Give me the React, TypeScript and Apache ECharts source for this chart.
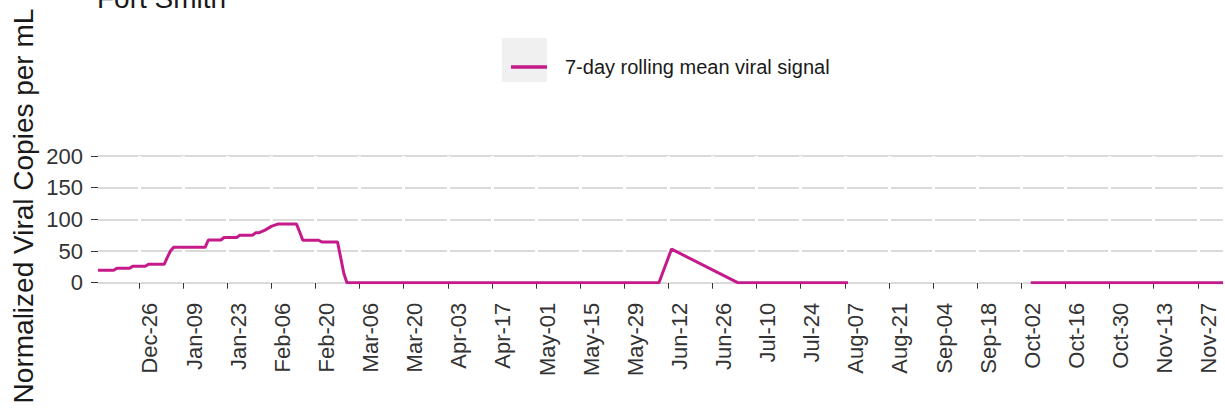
import React, { useEffect, useRef } from "react";
import * as echarts from "echarts";

const titleText = "Fort Smith";
const yAxisTitle = "Normalized Viral Copies per mL";
const seriesName = "7-day rolling mean viral signal";

const xMin = "2021-12-13";
const xMax = "2022-12-05";

const tickDates = [
  "2021-12-26", "2022-01-09", "2022-01-23", "2022-02-06", "2022-02-20",
  "2022-03-06", "2022-03-20", "2022-04-03", "2022-04-17", "2022-05-01",
  "2022-05-15", "2022-05-29", "2022-06-12", "2022-06-26", "2022-07-10",
  "2022-07-24", "2022-08-07", "2022-08-21", "2022-09-04", "2022-09-18",
  "2022-10-02", "2022-10-16", "2022-10-30", "2022-11-13", "2022-11-27",
];

const yMin = 0;
const yMax = 200;
const yStep = 50;

// breakpoints of the 7-day rolling mean (null = no data)
const pointDates = [
  "2021-12-13", "2021-12-18", "2021-12-19", "2021-12-23", "2021-12-24",
  "2021-12-28", "2021-12-29", "2022-01-03", "2022-01-04", "2022-01-05",
  "2022-01-06", "2022-01-16", "2022-01-17", "2022-01-21", "2022-01-22",
  "2022-01-26", "2022-01-27", "2022-01-31", "2022-02-01", "2022-02-02",
  "2022-02-04", "2022-02-06", "2022-02-08", "2022-02-14", "2022-02-15",
  "2022-02-16", "2022-02-21", "2022-02-22", "2022-02-27", "2022-02-28",
  "2022-03-01", "2022-03-02", "2022-06-09", "2022-06-13", "2022-07-04",
  "2022-08-08", "2022-09-01", "2022-10-05", "2022-12-05",
];
const pointValues: (number | null)[] = [
  19.5, 19.5, 22.7, 22.7, 25.8,
  25.8, 29, 29, 40, 50,
  55.8, 55.8, 67.4, 67.4, 71.4,
  71.4, 75, 75, 78.7, 78.7,
  83, 88.9, 92.5, 92.5, 80,
  67, 67, 64.4, 64.4, 40,
  15, 0, 0, 53, 0,
  0, null, 0, 0,
];

const MONTHS = ["Jan", "Feb", "Mar", "Apr", "May", "Jun", "Jul", "Aug", "Sep", "Oct", "Nov", "Dec"];
const toTs = (s: string) => {
  const [y, m, d] = s.split("-").map(Number);
  return Date.UTC(y, m - 1, d);
};

export default function App() {
  const ref = useRef<HTMLDivElement>(null);
  useEffect(() => {
    document.body.style.margin = "0";
    const chart = echarts.init(ref.current!, null, { renderer: "svg" });
    const data = pointDates.map((d, i) => [toTs(d), pointValues[i] === null ? "-" : pointValues[i]]);
    const ticks = tickDates.map(toTs);
    chart.setOption({
      animation: false,
      backgroundColor: "#ffffff",
      grid: { left: 98, right: 2, top: 156, bottom: 409 - 282.7, containLabel: false },
      legend: {
        show: true,
        left: 506,
        top: 52,
        itemWidth: 36,
        itemHeight: 3.5,
        icon: "rect",
        textStyle: { fontFamily: "Liberation Sans, Arial, sans-serif", fontSize: 20, color: "#1a1a1a", padding: [0, 0, 0, 13] },
        data: [{ name: seriesName, icon: "rect" }],
      },
      xAxis: {
        type: "value",
        min: toTs(xMin),
        max: toTs(xMax),
        offset: 6,
        axisLine: { show: false },
        axisTick: { show: true, length: 6, customValues: ticks, lineStyle: { color: "#333", width: 1 } },
        axisLabel: {
          customValues: ticks,
          rotate: 90,
          verticalAlign: "top",
          margin: 14,
          fontFamily: "Liberation Sans, Arial, sans-serif",
          fontSize: 22,
          color: "#333",
          hideOverlap: false,
          formatter: (v: number) => {
            const d = new Date(v);
            return MONTHS[d.getUTCMonth()] + "-" + String(d.getUTCDate()).padStart(2, "0");
          },
        },
        splitLine: { show: false },
      },
      yAxis: {
        type: "value",
        min: yMin,
        max: yMax,
        interval: yStep,
        axisLine: { show: false },
        axisTick: { show: true, length: 7, lineStyle: { color: "#333", width: 1 } },
        axisLabel: {
          margin: 15,
          fontFamily: "Liberation Sans, Arial, sans-serif",
          fontSize: 22,
          color: "#333",
        },
        splitLine: { show: true, lineStyle: { color: "#dadada", width: 2 } },
      },
      graphic: [
        {
          type: "rect",
          z: -1,
          shape: { x: 502, y: 38, width: 45, height: 44 },
          style: { fill: "#f0f0f0" },
        },
        {
          type: "text",
          x: 97,
          y: -2,
          style: {
            text: titleText,
            font: "28px 'Liberation Sans', Arial, sans-serif",
            fill: "#1a1a1a",
            align: "left",
            verticalAlign: "middle",
          },
        },
        {
          type: "text",
          x: 23,
          y: 206,
          rotation: Math.PI / 2,
          style: {
            text: yAxisTitle,
            font: "28px 'Liberation Sans', Arial, sans-serif",
            fill: "#1a1a1a",
            align: "center",
            verticalAlign: "middle",
          },
        },
      ],
      series: [
        {
          name: "x-grid",
          type: "line",
          data: [],
          z: 1,
          silent: true,
          markLine: {
            z: 1,
            silent: true,
            symbol: "none",
            label: { show: false },
            lineStyle: { color: "#ffffff", width: 3, type: "solid" },
            emphasis: { disabled: true },
            data: ticks.map((t) => ({ xAxis: t })),
          },
        },
        {
          name: seriesName,
          type: "line",
          data,
          showSymbol: false,
          symbol: "none",
          connectNulls: false,
          z: 10,
          color: "#C51B8A",
          lineStyle: { color: "#C51B8A", width: 3 },
        },
      ],
    });
    return () => chart.dispose();
  }, []);
  return <div ref={ref} style={{ width: 1225, height: 409 }} />;
}
